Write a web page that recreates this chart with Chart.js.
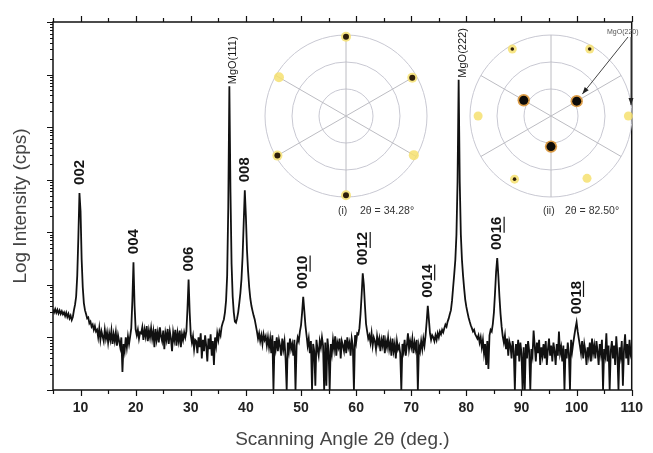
<!DOCTYPE html>
<html>
<head>
<meta charset="utf-8">
<title>XRD with pole figures</title>
<script src="https://cdn.jsdelivr.net/npm/chart.js@4.4.0/dist/chart.umd.min.js"></script>
<style>
  html, body { margin: 0; padding: 0; background: #fff; overflow: hidden; }
  #wrap { position: relative; width: 653px; height: 453px; }
  #xrd { position: absolute; left: 0; top: 0; }
  .pole { position: absolute; top: 25px; }
</style>
</head>
<body>
<div id="wrap">
  <canvas id="xrd" width="653" height="453"></canvas>
  <canvas id="pole1" class="pole" width="200" height="200" style="left:250px"></canvas>
  <canvas id="pole2" class="pole" width="200" height="200" style="left:455px"></canvas>
</div>
<script>
// scan: 2theta from 5 to 110 deg, one reading every 0.2 deg
const scanStart = 5;
const scanStep = 0.2;
const counts = [
  // 5.0 - 6.8
  340, 300, 345, 295, 335, 285, 325, 280, 315, 275,
  // 7.0 - 8.8
  300, 255, 295, 245, 280, 230, 260, 215, 245, 330,
  // 9.0 - 10.8  (002)
  420, 600, 1500, 8000, 56000, 25000, 3000, 900, 450, 330,
  // 11.0 - 12.8
  280, 230, 240, 185, 200, 160, 175, 140, 165, 130,
  // 13.0 - 14.8
  140, 100, 150, 90, 130, 105, 85, 140, 95, 125,
  // 15.0 - 16.8
  80, 120, 90, 135, 75, 115, 85, 125, 70, 110,
  // 17.0 - 18.8
  85, 65, 100, 22, 75, 55, 100, 65, 105, 75,
  // 19.0 - 20.8  (004)
  105, 150, 500, 2700, 400, 140, 110, 140, 95, 125,
  // 21.0 - 22.8
  120, 155, 90, 140, 105, 165, 85, 135, 100, 150,
  // 23.0 - 24.8
  95, 130, 65, 145, 90, 125, 80, 155, 105, 85,
  // 25.0 - 26.8
  135, 60, 120, 90, 145, 75, 130, 95, 55, 125,
  // 27.0 - 28.8
  90, 140, 70, 120, 85, 135, 65, 115, 90, 125,
  // 29.0 - 30.8  (006)
  100, 130, 350, 1260, 300, 110, 80, 105, 60, 90,
  // 31.0 - 32.8
  85, 50, 100, 65, 120, 40, 90, 55, 110, 70,
  // 33.0 - 34.8
  35, 95, 60, 115, 45, 85, 30, 100, 70, 120,
  // 35.0 - 36.8
  90, 130, 110, 160, 190, 220, 300, 500, 1500, 30000,
  // 37.0 - 38.8  MgO(111)
  6000000, 60000, 2500, 600, 300, 200, 190, 230, 300, 450,
  // 39.0 - 40.8  (008)
  700, 1300, 3500, 15000, 63000, 20000, 4500, 1800, 900, 550,
  // 41.0 - 42.8
  400, 320, 260, 220, 170, 130, 95, 120, 85, 110,
  // 43.0 - 44.8
  75, 115, 90, 105, 70, 100, 65, 95, 50, 110,
  // 45.0 - 46.8
  10, 85, 60, 100, 55, 90, 70, 45, 95, 60,
  // 47.0 - 48.8
  85, 40, 10, 80, 55, 95, 60, 75, 45, 90,
  // 49.0 - 50.8  (0010)
  10, 70, 100, 85, 130, 170, 300, 590, 320, 170,
  // 51.0 - 52.8
  110, 70, 95, 50, 85, 10, 75, 55, 12, 90,
  // 53.0 - 54.8
  60, 45, 85, 65, 100, 70, 10, 80, 12, 95,
  // 55.0 - 56.8
  55, 10, 75, 50, 90, 60, 105, 45, 80, 65,
  // 57.0 - 58.8
  95, 40, 85, 70, 55, 90, 50, 100, 65, 80,
  // 59.0 - 60.8
  45, 95, 70, 10, 110, 80, 120, 115, 150, 280,
  // 61.0 - 62.8  (0012)
  650, 1660, 1000, 400, 180, 130, 95, 110, 80, 120,
  // 63.0 - 64.8
  70, 100, 85, 60, 105, 75, 95, 55, 90, 70,
  // 65.0 - 66.8
  110, 50, 85, 65, 100, 60, 80, 45, 95, 55,
  // 67.0 - 68.8
  75, 40, 85, 60, 70, 50, 10, 75, 55, 90,
  // 69.0 - 70.8
  45, 70, 120, 60, 85, 65, 95, 50, 80, 60,
  // 71.0 - 72.8
  90, 10, 70, 55, 85, 60, 95, 70, 110, 200,
  // 73.0 - 74.8  (0014)
  400, 220, 120, 90, 110, 100, 85, 110, 90, 120,
  // 75.0 - 76.8
  100, 130, 115, 140, 125, 150, 175, 160, 200, 230,
  // 77.0 - 78.8  MgO(222)
  280, 330, 500, 900, 1600, 3000, 9000, 90000, 8000000, 90000,
  // 79.0 - 80.8
  9000, 3000, 1500, 850, 520, 380, 300, 240, 200, 170,
  // 81.0 - 82.8
  150, 130, 140, 115, 105, 95, 110, 80, 100, 65,
  // 83.0 - 84.8
  90, 50, 75, 30, 85, 25, 110, 140, 130, 180,
  // 85.0 - 86.8  (0016)
  300, 700, 1800, 3240, 1500, 600, 280, 160, 105, 80,
  // 87.0 - 88.8
  110, 60, 95, 45, 85, 70, 40, 85, 55, 10,
  // 89.0 - 90.8
  75, 45, 90, 35, 80, 50, 10, 65, 10, 75,
  // 91.0 - 92.8
  40, 85, 55, 10, 60, 45, 135, 70, 35, 80,
  // 93.0 - 94.8
  50, 90, 30, 65, 45, 75, 40, 85, 30, 60,
  // 95.0 - 96.8
  95, 45, 70, 35, 80, 55, 30, 75, 45, 130,
  // 97.0 - 98.8
  50, 65, 35, 70, 10, 60, 40, 80, 50, 10,
  // 99.0 - 100.8  (0018)
  90, 55, 80, 110, 150, 195, 130, 95, 70, 50,
  // 101.0 - 102.8
  85, 40, 75, 55, 30, 65, 45, 80, 35, 95,
  // 103.0 - 104.8
  50, 70, 40, 85, 55, 30, 75, 50, 90, 10,
  // 105.0 - 106.8
  60, 45, 120, 35, 70, 10, 55, 85, 40, 70,
  // 107.0 - 108.8
  30, 105, 50, 10, 65, 45, 85, 12, 60, 115,
  // 109.0 - 110.0
  40, 75, 30, 90, 50, 65
];
const angles = counts.map((c, i) => +(scanStart + i * scanStep).toFixed(1));

// peak indexing
const peakAngles = [9.9, 19.6, 29.6, 37.0, 39.8, 50.4, 61.3, 73.0, 78.6, 85.6, 100.0];
const peakNames = ['002', '004', '006', 'MgO(111)', '008', '0010', '0012', '0014', 'MgO(222)', '0016', '0018'];

// x axis
const xMin = 5, xMax = 110, xStep = 5;

// pole figures: azimuth positions (clockwise from top), values = tilt chi (deg)
const poleAzimuths = ['0', '30', '60', '90', '120', '150', '180', '210', '240', '270', '300', '330'];
const pole1Spots = [88, null, 85, null, 87, null, 88, null, 88, null, 86, null];
const pole1Cores = [88, null, 85, null, null, null, 88, null, 88, null, null, null];
const pole2Spots = [null, 86, 33, 86, null, 80, 34, 81, null, 81, 35, 86];
const pole2Cores = [null, 86, 33, null, null, null, 34, 81, null, null, 35, 86];

const FONT = "'Liberation Sans', Arial, sans-serif";
Chart.defaults.font.family = FONT;

const framePlugin = {
    id: 'frame',
    afterDatasetsDraw(chart) {
        const { ctx, chartArea: a, scales: { x, y } } = chart;
        ctx.save();
        ctx.strokeStyle = '#111';
        ctx.lineWidth = 1.5;
        ctx.strokeRect(a.left, a.top, a.right - a.left, a.bottom - a.top);
        ctx.lineWidth = 1.2;
        ctx.beginPath();
        x.ticks.forEach(t => {
            const px = Math.round(x.getPixelForValue(t.value)) + 0.5;
            const len = t.value % 10 === 0 ? 6 : 4;
            ctx.moveTo(px, a.bottom); ctx.lineTo(px, a.bottom + len);
            ctx.moveTo(px, a.top); ctx.lineTo(px, a.top - len);
        });
        y.ticks.forEach(t => {
            const py = Math.round(y.getPixelForValue(t.value)) + 0.5;
            const len = t.major ? 6 : 3;
            ctx.moveTo(a.left, py); ctx.lineTo(a.left - len, py);
        });
        ctx.stroke();
        ctx.restore();
    }
};

const peakLabelPlugin = {
    id: 'peakLabels',
    afterDatasetsDraw(chart) {
        const { ctx, scales: { x, y } } = chart;
        ctx.save();
        ctx.fillStyle = '#151515';
        ctx.strokeStyle = '#151515';
        ctx.textAlign = 'left';
        ctx.textBaseline = 'middle';
        peakAngles.forEach((ang, i) => {
            let top = 0;
            angles.forEach((a, j) => {
                if (Math.abs(a - ang) <= 0.4 && counts[j] > top) top = counts[j];
            });
            const name = peakNames[i];
            const isMgO = name.startsWith('MgO');
            const size = isMgO ? 11 : 15;
            const px = x.getPixelForValue(ang) + (isMgO ? 4 : 0);
            const py = y.getPixelForValue(top) - (isMgO ? 2 : 8);
            ctx.font = (isMgO ? '' : 'bold ') + size + 'px ' + FONT;
            ctx.save();
            ctx.translate(px, py);
            ctx.rotate(-Math.PI / 2);
            ctx.fillText(name, 0, 0);
            if (!isMgO && name.length === 4) {
                // bar under the l index
                const w0 = ctx.measureText('00').width;
                const w1 = ctx.measureText(name).width;
                const off = size * 0.36 + 1.5;
                ctx.lineWidth = 1.2;
                ctx.beginPath();
                ctx.moveTo(w0 + 0.5, off);
                ctx.lineTo(w1, off);
                ctx.stroke();
            }
            ctx.restore();
        });
        ctx.restore();
    }
};

new Chart(document.getElementById('xrd'), {
    type: 'line',
    data: {
        datasets: [{
            data: angles.map((a, i) => ({ x: a, y: counts[i] })),
            borderColor: '#111',
            borderWidth: 1.8,
            pointRadius: 0,
            tension: 0,
            fill: false
        }]
    },
    options: {
        responsive: false,
        animation: false,
        events: [],
        layout: { padding: { top: 22, right: 15, left: 0, bottom: 0 } },
        plugins: { legend: { display: false }, tooltip: { enabled: false } },
        scales: {
            x: {
                type: 'linear',
                min: xMin,
                max: xMax,
                grid: { display: false, drawTicks: false },
                border: { display: false },
                ticks: {
                    stepSize: xStep,
                    autoSkip: false,
                    maxRotation: 0,
                    padding: 10,
                    color: '#222',
                    font: { size: 14, weight: 'bold' },
                    callback: v => (v % 10 === 0 ? v : '')
                },
                title: {
                    display: true,
                    text: 'Scanning Angle 2θ (deg.)',
                    color: '#444',
                    font: { size: 19 },
                    padding: { top: 0, bottom: 2 }
                },
                afterFit: s => { s.height = 63; }
            },
            y: {
                type: 'logarithmic',
                min: 10,
                max: 1e8,
                grid: { display: false, drawTicks: false },
                border: { display: false },
                ticks: { display: false },
                afterBuildTicks: s => {
                    const t = [];
                    for (let e = 1; e < 8; e++) {
                        for (let m = 1; m < 10; m++) t.push({ value: m * Math.pow(10, e), major: m === 1 });
                    }
                    t.push({ value: 1e8, major: true });
                    s.ticks = t;
                },
                title: {
                    display: true,
                    text: 'Log Intensity (cps)',
                    color: '#444',
                    font: { size: 19 },
                    padding: { top: 9, bottom: 0 }
                },
                afterFit: s => { s.width = 53; }
            }
        }
    },
    plugins: [framePlugin, peakLabelPlugin]
});

function arrow(ctx, x0, y0, x1, y1) {
    const ang = Math.atan2(y1 - y0, x1 - x0);
    ctx.beginPath();
    ctx.moveTo(x0, y0);
    ctx.lineTo(x1, y1);
    ctx.stroke();
    ctx.beginPath();
    ctx.moveTo(x1, y1);
    ctx.lineTo(x1 - 7 * Math.cos(ang) + 2.5 * Math.sin(ang), y1 - 7 * Math.sin(ang) - 2.5 * Math.cos(ang));
    ctx.lineTo(x1 - 7 * Math.cos(ang) - 2.5 * Math.sin(ang), y1 - 7 * Math.sin(ang) + 2.5 * Math.cos(ang));
    ctx.closePath();
    ctx.fill();
}

const poleNote = {
    id: 'poleNote',
    afterDatasetsDraw(chart, args, opts) {
        const r = chart.scales.r;
        const ctx = chart.ctx;
        const cx = r.xCenter, cy = r.yCenter;
        ctx.save();
        ctx.fillStyle = '#333';
        ctx.textBaseline = 'middle';
        ctx.font = '10.5px ' + FONT;
        ctx.fillText(opts.tag, cx - 8, cy + 95);
        ctx.fillText(opts.text, cx + 14, cy + 95);
        if (opts.note) {
            ctx.font = '7px ' + FONT;
            ctx.fillStyle = '#555';
            ctx.fillText(opts.note, cx + 56, cy - 84);
            ctx.fillStyle = '#222';
            ctx.strokeStyle = '#444';
            ctx.lineWidth = 1;
            // arrow to the inner MgO(220) spot
            const p = r.getPointPositionForValue(2, pole2Spots[2]);
            const sx = cx + 77, sy = cy - 79;
            const d = Math.hypot(p.x - sx, p.y - sy);
            arrow(ctx, sx, sy, p.x + (sx - p.x) * 9 / d, p.y + (sy - p.y) * 9 / d);
            // arrow to the rim spot
            const q = r.getPointPositionForValue(3, pole2Spots[3]);
            arrow(ctx, cx + 80, cy - 79, cx + 80, q.y - 11);
        }
        ctx.restore();
    }
};

function poleChart(id, spots, cores, style, note) {
    return new Chart(document.getElementById(id), {
        type: 'radar',
        data: {
            labels: poleAzimuths,
            datasets: [
                {
                    data: cores,
                    showLine: false,
                    fill: false,
                    pointBorderWidth: 0,
                    pointBackgroundColor: c => (c.raw < 50 ? '#0d0b08' : '#2e1e0a'),
                    pointRadius: c => (c.raw < 50 ? style.bigCore : style.core)
                },
                {
                    data: spots,
                    showLine: false,
                    fill: false,
                    pointBorderWidth: 0,
                    pointBackgroundColor: c => (c.raw < 50 ? 'rgba(214,140,40,0.85)' : 'rgba(246,224,112,0.85)'),
                    pointRadius: c => (c.raw < 50 ? style.bigHalo : style.halo)
                }
            ]
        },
        options: {
            responsive: false,
            animation: false,
            events: [],
            layout: { padding: { left: 15, top: 10, right: 23, bottom: 28 } },
            plugins: { legend: { display: false }, tooltip: { enabled: false }, poleNote: note },
            scales: {
                r: {
                    min: 0,
                    max: 90,
                    ticks: { display: false, stepSize: 30 },
                    pointLabels: { display: false },
                    grid: { circular: true, color: '#c8c8d2', lineWidth: 1 },
                    angleLines: {
                        color: c => (c.index % 2 === 0 ? '#bcbcc2' : 'rgba(0,0,0,0)'),
                        lineWidth: 1
                    }
                }
            }
        },
        plugins: [poleNote]
    });
}

poleChart('pole1', pole1Spots, pole1Cores,
    { core: 3, halo: 5, bigCore: 3, bigHalo: 5 },
    { tag: '(i)', text: '2θ = 34.28°' });
poleChart('pole2', pole2Spots, pole2Cores,
    { core: 1.8, halo: 4.5, bigCore: 4.5, bigHalo: 6.2 },
    { tag: '(ii)', text: '2θ = 82.50°', note: 'MgO(220)' });
</script>
</body>
</html>
